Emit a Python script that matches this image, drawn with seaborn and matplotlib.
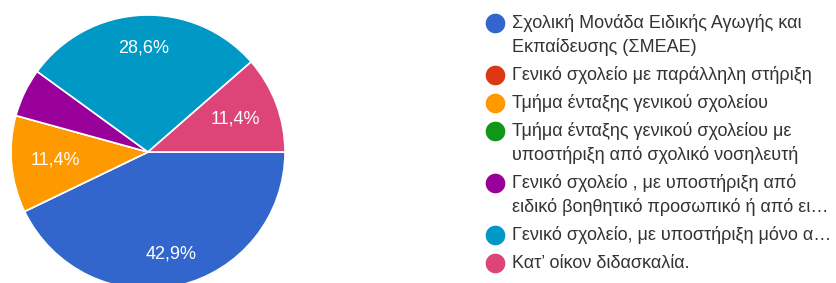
import matplotlib
matplotlib.use("Agg")
import matplotlib.pyplot as plt
import seaborn as sns

# ---- data ----
categories = [
    "Σχολική Μονάδα Ειδικής Αγωγής και\nΕκπαίδευσης (ΣΜΕΑΕ)",
    "Γενικό σχολείο με παράλληλη στήριξη",
    "Τμήμα ένταξης γενικού σχολείου",
    "Τμήμα ένταξης γενικού σχολείου με\nυποστήριξη από σχολικό νοσηλευτή",
    "Γενικό σχολείο , με υποστήριξη από\nειδικό βοηθητικό προσωπικό ή από ει…",
    "Γενικό σχολείο, με υποστήριξη μόνο α…",
    "Κατ’ οίκον διδασκαλία.",
]
counts = [15, 0, 4, 0, 2, 10, 4]
colors = ["#3366CC", "#DC3912", "#FF9900", "#109618", "#990099", "#0099C6", "#DD4477"]

sns.set_theme(style="white")
plt.rcParams["font.family"] = ["Liberation Sans", "DejaVu Sans"]
palette = sns.color_palette(colors)

W, H = 837, 283
fig = plt.figure(figsize=(W / 100, H / 100), dpi=100)
fig.patch.set_facecolor("white")

# pie axes (center ~ (148,152) px, radius ~137 px)
cx, cy, R = 148, 152, 137
ax = fig.add_axes([(cx - R) / W, (H - cy - R) / H, 2 * R / W, 2 * R / H])


def fmt(p):
    return f"{p:.1f}%".replace(".", ",") if p >= 8 else ""


wedges, texts, autotexts = ax.pie(
    counts,
    colors=palette,
    startangle=0,
    counterclock=False,
    autopct=fmt,
    pctdistance=0.76,
    radius=1,
    wedgeprops=dict(edgecolor="white", linewidth=1.2),
    textprops=dict(color="white", fontsize=13),
)
# narrower slices get their label pulled a bit toward the centre
total = sum(counts)
for c, t in zip(counts, autotexts):
    if 0 < c / total < 0.2:
        x, y = t.get_position()
        t.set_position((x * 0.68 / 0.76, y * 0.68 / 0.76))

ax.set_xlim(-1, 1)
ax.set_ylim(-1, 1)
ax.set_aspect("auto")
ax.axis("off")

# legend drawn in pixel coordinates
lax = fig.add_axes([0, 0, 1, 1])
lax.set_xlim(0, W)
lax.set_ylim(H, 0)
lax.axis("off")
lax.patch.set_alpha(0)

y = 23
wrap_gap = 24
item_gap = 28
for lab, col in zip(categories, palette):
    lax.scatter([495], [y], s=200, color=col, linewidths=0)
    lines = lab.split("\n")
    for i, ln in enumerate(lines):
        lax.text(512, y + i * wrap_gap, ln, fontsize=13, color="#333333",
                 va="center", ha="left")
    y += (len(lines) - 1) * wrap_gap + item_gap

fig.savefig("out.png", dpi=100, facecolor="white")
